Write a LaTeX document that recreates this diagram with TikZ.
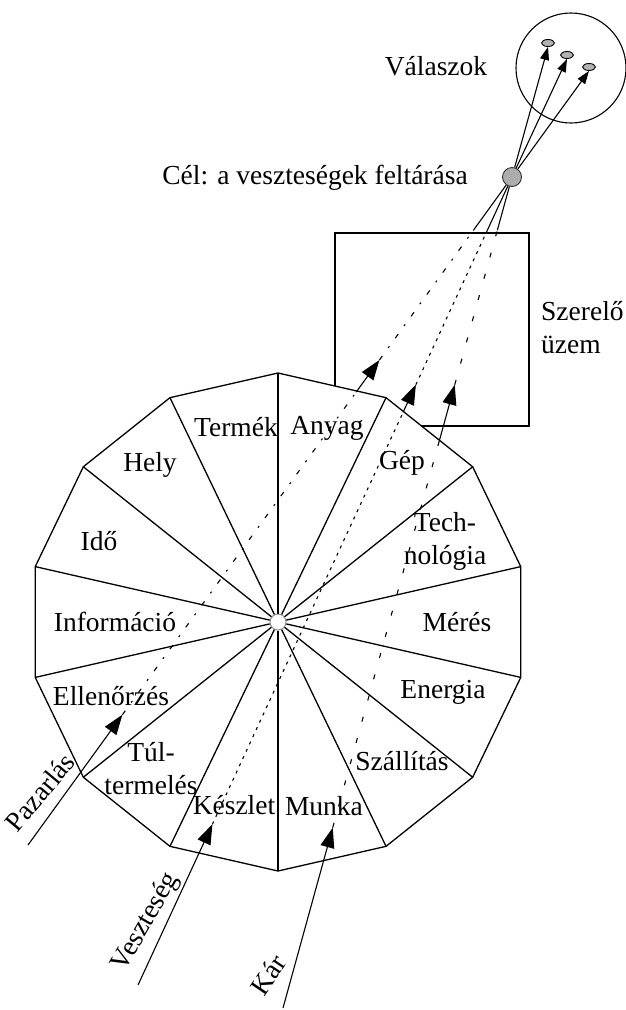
\documentclass[tikz,border=0pt]{standalone}
\usepackage{fontspec}
\setmainfont{Liberation Serif}
\usetikzlibrary{calc,arrows.meta,shapes.geometric}
\begin{document}
\begin{tikzpicture}[x=1pt,y=-1pt,
  lbl/.style={inner sep=0pt, font=\fontsize{27.5}{33}\selectfont, align=center},
  edge/.style={line width=1.3pt},
  flow/.style={line width=1.1pt},
  bighead/.style={-{Triangle[length=20pt,width=14pt]}},
  smallhead/.style={-{Triangle[length=13pt,width=9pt]}},
  dotsA/.style={line width=1.1pt, dash pattern=on 5pt off 10pt on 2pt off 10pt},
  dotsB/.style={line width=1.1pt, dash pattern=on 3pt off 5pt},
  dotsC/.style={line width=1.1pt, dash pattern=on 5pt off 17pt},
  answer/.style={draw, ellipse, fill=black!30, line width=0.9pt, minimum width=13pt, minimum height=7pt, inner sep=0pt},
]
\useasboundingbox (0,0) rectangle (626,1010);

% assembly plant box (partly hidden behind the wheel)
\node[draw, line width=1.4pt, minimum width=194pt, minimum height=193pt, inner sep=0pt] (plant) at (432,329.5) {};

% the 14-sided wheel
\coordinate (O) at (278,622);
\foreach \k in {0,...,13}
  \coordinate (v\k) at ($(O)+({249*cos(90-\k*360/14)},{-249*sin(90-\k*360/14)})$);
\filldraw[fill=white, edge] (v0) \foreach \k in {1,...,13}{ -- (v\k)} -- cycle;
\node[circle, draw=black!45, fill=white, minimum size=16pt, inner sep=0pt, line width=1pt] (hub) at (O) {};
\foreach \k in {0,...,13} \draw[edge] (hub) -- (v\k);

% sector labels
\node[lbl] (termek) at (236,427) {Termék};
\node[lbl] (anyag) at (327,428) {Anyag};
\node[lbl] (gep) at (402,463) {Gép};
\node[lbl] (tech) at (445,541) {Tech-\\nológia};
\node[lbl] (meres) at (457,622) {Mérés};
\node[lbl] (energia) at (443,692) {Energia};
\node[lbl] (szall) at (402,761) {Szállítás};
\node[lbl] (munka) at (324,806) {Munka};
\node[lbl] (keszlet) at (234,805) {Készlet};
\node[lbl] (tul) at (151,769) {Túl-\\termelés};
\node[lbl] (ellen) at (111,696) {Ellenőrzés};
\node[lbl] (info) at (115,622) {Információ};
\node[lbl] (ido) at (99,541) {Idő};
\node[lbl] (hely) at (150,465) {Hely};

% plant label
\node[lbl, anchor=west, align=left] (plantlbl) at (541,328) {Szerelő\\üzem};

% goal point and answers
\node[circle, fill=black!32, draw=black!80, line width=0.9pt, minimum size=19pt, inner sep=0pt] (goal) at (512,177) {};
\node[lbl] (goallbl) at (315,178) {Cél: a veszteségek feltárása};
\node[draw, circle, line width=1.1pt, minimum size=110pt, inner sep=0pt] (answers) at (571,68) {};
\node[lbl] (answlbl) at (436,66) {Válaszok};
\node[answer] (r1) at (548,43) {};
\node[answer] (r2) at (567,55) {};
\node[answer] (r3) at (589,67) {};
\draw[flow, smallhead] (goal) -- (r1.south);
\draw[flow, smallhead] (goal) -- (r2.south);
\draw[flow, smallhead] (goal) -- (r3.south);

% input streams
\coordinate (pa0) at (28,845);
\coordinate (ve0) at (138,985);
\coordinate (ka0) at (283,1008);

\node[lbl, rotate=50] (pazar) at (40,792) {Pazarlás};
\node[lbl, rotate=60] (veszt) at (146,922) {Veszteség};
\node[lbl, rotate=56] (kar) at (268,975) {Kár};

% Pazarlás stream
\coordinate (pa1) at ($(pa0)!0.195!(goal)$);
\coordinate (pa2) at ($(pa0)!0.678!(goal)$);
\coordinate (pa3) at ($(pa0)!0.726!(goal)$);
\coordinate (pa4) at ($(pa0)!0.920!(goal)$);
\draw[flow, bighead] (pa0) -- (pa1);
\draw[dotsA] (pa1) -- (pa2);
\draw[flow, bighead] (pa2) -- (pa3);
\draw[dotsA] (pa3) -- (pa4);
\draw[flow] (pa4) -- (goal);

% Veszteség stream
\coordinate (ve1) at ($(ve0)!0.199!(goal)$);
\coordinate (ve2) at ($(ve0)!0.709!(goal)$);
\coordinate (ve3) at ($(ve0)!0.743!(goal)$);
\coordinate (ve4) at ($(ve0)!0.934!(goal)$);
\draw[flow, bighead] (ve0) -- (ve1);
\draw[dotsB] (ve1) -- (ve2);
\draw[flow, bighead] (ve2) -- (ve3);
\draw[dotsB] (ve3) -- (ve4);
\draw[flow] (ve4) -- (goal);

% Kár stream
\coordinate (ka1) at ($(ka0)!0.217!(goal)$);
\coordinate (ka2) at ($(ka0)!0.683!(goal)$);
\coordinate (ka3) at ($(ka0)!0.750!(goal)$);
\coordinate (ka4) at ($(ka0)!0.936!(goal)$);
\draw[flow, bighead] (ka0) -- (ka1);
\draw[dotsC] (ka1) -- (ka2);
\draw[flow, bighead] (ka2) -- (ka3);
\draw[dotsC] (ka3) -- (ka4);
\draw[flow] (ka4) -- (goal);
\end{tikzpicture}
\end{document}
